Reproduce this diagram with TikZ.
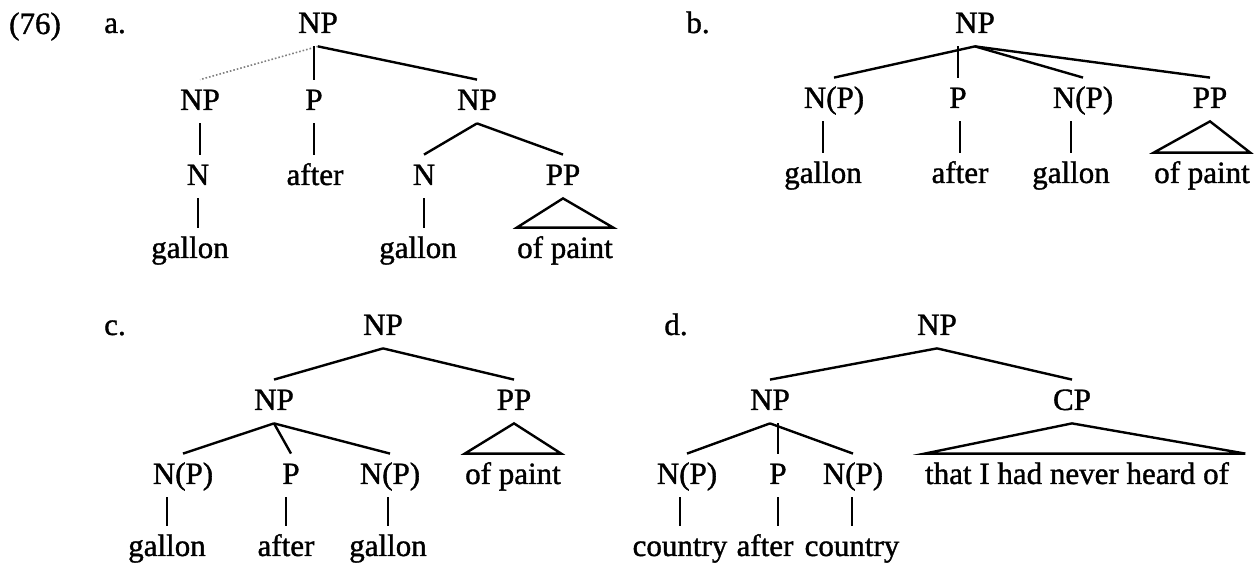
\documentclass[tikz,border=0pt]{standalone}
\usepackage{fontspec}
\setmainfont{Liberation Serif}[BoldFont={Liberation Serif}, BoldFeatures={FakeBold=1.2}]
\tikzset{
  cat/.style={anchor=base, inner xsep=0pt, inner ysep=3pt, text height=12pt, text depth=3.5pt},
  branch/.style={line width=1.2pt},
  stem/.style={line width=0.7pt},
  faint/.style={line width=0.8pt, gray, densely dotted},
  roof/.style={line width=1.2pt, line join=miter}
}
\begin{document}
\begin{tikzpicture}[x=0.5pt, y=-0.5pt, every node/.style={font=\fontsize{15.5}{18}\selectfont\bfseries}]
\useasboundingbox (0,0) rectangle (1258,565);

% numero e lettere
\node[cat] (ex) at (35,34) {(76)};
\node[cat] (la) at (115,33) {a.};
\node[cat] (lb) at (698,33) {b.};
\node[cat] (lc) at (115,335) {c.};
\node[cat] (ld) at (676,335) {d.};

% albero a
\node[cat] (a) at (318,33) {NP};
\node[cat] (a1) at (200,110) {NP};
\node[cat] (a2) at (314,110) {P};
\node[cat] (a3) at (477,110) {NP};
\node[cat] (a11) at (198,185) {N};
\node[cat] (a21) at (315,185) {after};
\node[cat] (a31) at (424,185) {N};
\node[cat] (a32) at (563,185) {PP};
\node[cat] (a111) at (190,258) {gallon};
\node[cat] (a311) at (418,258) {gallon};
\node[cat] (a321) at (565,258) {of paint};
\draw[faint] (a.south) -- (a1.north);
\draw[stem] (a2.north |- a.south) -- (a2.north);
\draw[branch] (a.south) -- (a3.north);
\draw[stem] (a1.south) -- (a1.south |- a11.north);
\draw[stem] (a2.south) -- (a2.south |- a21.north);
\draw[branch] (a3.south) -- (a31.north);
\draw[branch] (a3.south) -- (a32.north);
\draw[stem] (a11.south) -- (a11.south |- a111.north);
\draw[stem] (a31.south) -- (a31.south |- a311.north);
\draw[roof] (a32.south) -- (a321.north east) -- (a321.north west) -- cycle;

% albero b
\node[cat] (b) at (975,33) {NP};
\node[cat] (b1) at (834,108) {N(P)};
\node[cat] (b2) at (958,108) {P};
\node[cat] (b3) at (1083,108) {N(P)};
\node[cat] (b4) at (1210,108) {PP};
\node[cat] (b11) at (823,183) {gallon};
\node[cat] (b21) at (960,183) {after};
\node[cat] (b31) at (1071,183) {gallon};
\node[cat] (b41) at (1202,183) {of paint};
\draw[branch] (b.south) -- (b1.north);
\draw[stem] (b2.north |- b.south) -- (b2.north);
\draw[branch] (b.south) -- (b3.north);
\draw[branch] (b.south) -- (b4.north);
\draw[stem] (b11.north |- b1.south) -- (b11.north);
\draw[stem] (b21.north |- b2.south) -- (b21.north);
\draw[stem] (b31.north |- b3.south) -- (b31.north);
\draw[roof] (b4.south) -- (b41.north east) -- (b41.north west) -- cycle;

% albero c
\node[cat] (c) at (383,335) {NP};
\node[cat] (c1) at (274,410) {NP};
\node[cat] (c2) at (514,410) {PP};
\node[cat] (c11) at (183,484) {N(P)};
\node[cat] (c12) at (291,484) {P};
\node[cat] (c13) at (390,484) {N(P)};
\node[cat] (c21) at (513,484) {of paint};
\node[cat] (c111) at (167,556) {gallon};
\node[cat] (c121) at (286,556) {after};
\node[cat] (c131) at (388,556) {gallon};
\draw[branch] (c.south) -- (c1.north);
\draw[branch] (c.south) -- (c2.north);
\draw[branch] (c1.south) -- (c11.north);
\draw[branch] (c1.south) -- (c12.north);
\draw[branch] (c1.south) -- (c13.north);
\draw[roof] (c2.south) -- (c21.north east) -- (c21.north west) -- cycle;
\draw[stem] (c111.north |- c11.south) -- (c111.north);
\draw[stem] (c121.north |- c12.south) -- (c121.north);
\draw[stem] (c131.north |- c13.south) -- (c131.north);

% albero d
\node[cat] (d) at (937,335) {NP};
\node[cat] (d1) at (770,410) {NP};
\node[cat] (d2) at (1072,410) {CP};
\node[cat] (d11) at (687,484) {N(P)};
\node[cat] (d12) at (778,484) {P};
\node[cat] (d13) at (853,484) {N(P)};
\node[cat] (d21) at (1077,484) {that I had never heard of};
\node[cat] (d111) at (680,556) {country};
\node[cat] (d121) at (765,556) {after};
\node[cat] (d131) at (852,556) {country};
\draw[branch] (d.south) -- (d1.north);
\draw[branch] (d.south) -- (d2.north);
\draw[branch] (d1.south) -- (d11.north);
\draw[stem] (d12.north |- d1.south) -- (d12.north);
\draw[branch] (d1.south) -- (d13.north);
\draw[roof] (d2.south) -- ([xshift=8pt]d21.north east) -- (d21.north west) -- cycle;
\draw[stem] (d111.north |- d11.south) -- (d111.north);
\draw[stem] (d12.south) -- (d12.south |- d121.north);
\draw[stem] (d131.north |- d13.south) -- (d131.north);
\end{tikzpicture}
\end{document}
